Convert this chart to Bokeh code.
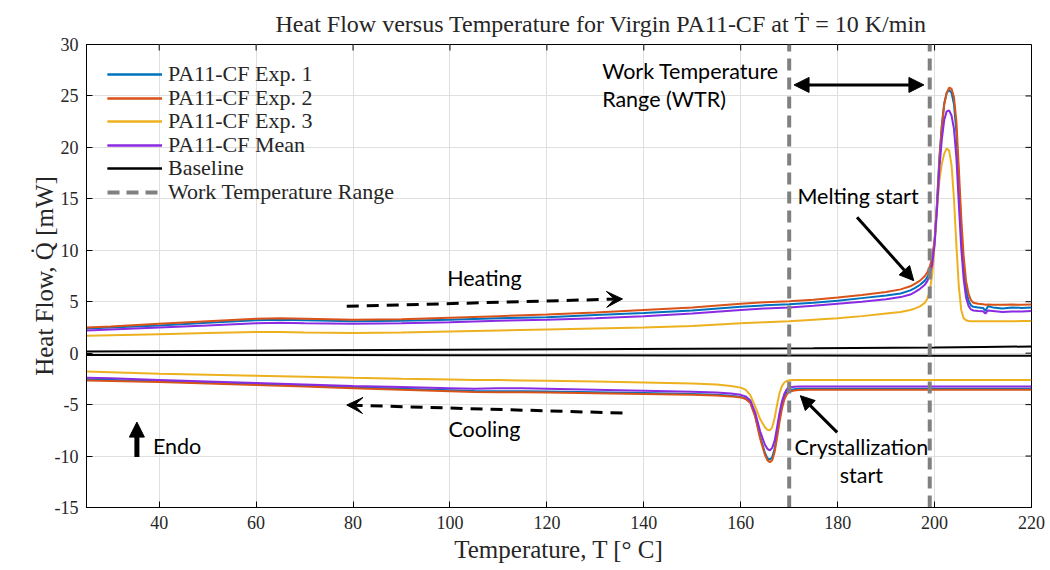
from bokeh.plotting import figure
from bokeh.models import (Arrow, NormalHead, VeeHead, Label, FixedTicker, Range1d, CustomJSTickFormatter,
                          Legend, LegendItem)
from bokeh.embed import file_html
from bokeh.resources import INLINE

# ---------------- data ----------------
T_heat = [25, 30, 40, 50, 60, 65, 70, 80, 90, 100, 110, 120, 130, 140, 150, 160, 165, 170, 175, 180,
          185, 190, 193, 195, 196, 197, 198, 198.5, 199, 199.5, 200, 200.5, 201, 201.5, 202, 202.5, 203, 203.5, 204, 204.5,
          205, 205.5, 206, 206.5, 207, 207.5, 208, 209, 210, 210.5, 211, 212, 214, 216, 218, 220]
heat_exp1 = [2.4, 2.5, 2.7, 2.95, 3.2, 3.25, 3.2, 3.1, 3.15, 3.25, 3.4, 3.5, 3.7, 3.9, 4.15, 4.5, 4.65, 4.75, 4.9, 5.1,
             5.35, 5.6, 5.8, 6.1, 6.35, 6.65, 7.05, 7.4, 7.95, 8.9, 10.8, 14.6, 19.0, 22.2, 24.3, 25.3, 25.6, 25.3, 24.2, 21.5,
             16.8, 12.0, 8.4, 6.2, 5.1, 4.65, 4.5, 4.45, 4.4, 4.1, 4.55, 4.45, 4.35, 4.45, 4.4, 4.45]
heat_exp2 = [2.5, 2.6, 2.85, 3.1, 3.35, 3.4, 3.35, 3.25, 3.3, 3.45, 3.6, 3.75, 3.95, 4.2, 4.45, 4.8, 4.95, 5.05, 5.2, 5.4,
             5.65, 5.95, 6.2, 6.5, 6.75, 7.05, 7.5, 7.85, 8.4, 9.3, 11.0, 14.5, 18.8, 22.0, 24.2, 25.3, 25.8, 25.7, 24.9, 22.5,
             18.0, 13.2, 9.4, 7.0, 5.8, 5.15, 4.9, 4.8, 4.75, 4.7, 4.72, 4.7, 4.7, 4.72, 4.7, 4.72]
heat_exp3 = [1.7, 1.75, 1.85, 1.95, 2.05, 2.05, 2.0, 1.95, 2.0, 2.1, 2.2, 2.3, 2.4, 2.5, 2.65, 2.9, 3.0, 3.1, 3.25, 3.4,
             3.6, 3.85, 4.0, 4.2, 4.35, 4.55, 4.9, 5.3, 6.0, 7.6, 10.5, 14.0, 16.8, 18.4, 19.4, 19.9, 19.7, 18.3, 15.0, 10.5,
             6.5, 4.2, 3.4, 3.2, 3.12, 3.1, 3.1, 3.1, 3.1, 3.1, 3.1, 3.1, 3.1, 3.1, 3.12, 3.12]
heat_mean = [2.2, 2.3, 2.5, 2.7, 2.9, 2.95, 2.9, 2.85, 2.9, 3.0, 3.15, 3.25, 3.4, 3.6, 3.85, 4.2, 4.35, 4.45, 4.6, 4.8,
             5.0, 5.25, 5.45, 5.7, 5.95, 6.25, 6.65, 7.0, 7.6, 8.6, 10.6, 14.0, 18.0, 20.8, 22.7, 23.5, 23.6, 23.1, 21.8, 19.0,
             14.5, 10.2, 7.2, 5.4, 4.6, 4.25, 4.15, 4.1, 4.08, 3.85, 4.15, 4.1, 4.0, 4.05, 4.05, 4.1]

T_cool = [25, 30, 40, 50, 60, 70, 80, 90, 100, 105, 110, 115, 120, 130, 140, 150, 155, 158, 160, 161,
          162, 163, 164, 165, 165.5, 166, 166.5, 167, 167.5, 168, 168.5, 169, 169.5, 170, 171, 172, 174, 176, 180, 190,
          200, 210, 220]
cool_exp1 = [-2.55, -2.6, -2.72, -2.87, -3.02, -3.17, -3.32, -3.47, -3.6, -3.68, -3.7, -3.7, -3.73, -3.8, -3.88, -3.97, -4.05, -4.13, -4.25, -4.4,
             -4.8, -6.1, -8.1, -9.7, -10.2, -10.35, -10.1, -9.3, -7.9, -6.4, -5.1, -4.3, -3.85, -3.6, -3.5, -3.47, -3.45, -3.45, -3.45, -3.45,
             -3.45, -3.45, -3.45]
cool_exp2 = [-2.65, -2.7, -2.8, -2.95, -3.1, -3.25, -3.4, -3.55, -3.7, -3.78, -3.8, -3.8, -3.83, -3.9, -3.97, -4.05, -4.12, -4.2, -4.3, -4.45,
             -4.85, -6.2, -8.3, -9.9, -10.4, -10.6, -10.4, -9.6, -8.2, -6.7, -5.4, -4.5, -4.0, -3.75, -3.62, -3.58, -3.56, -3.56, -3.56, -3.56,
             -3.56, -3.56, -3.56]
cool_exp3 = [-1.78, -1.85, -2.0, -2.1, -2.2, -2.3, -2.4, -2.48, -2.55, -2.6, -2.62, -2.65, -2.68, -2.76, -2.84, -2.95, -3.05, -3.2, -3.35, -3.55,
             -4.1, -5.2, -6.4, -7.2, -7.45, -7.5, -7.2, -6.3, -5.0, -3.9, -3.2, -2.85, -2.7, -2.64, -2.6, -2.6, -2.6, -2.6, -2.62, -2.62,
             -2.62, -2.62, -2.62]
cool_mean = [-2.38, -2.45, -2.6, -2.75, -2.9, -3.05, -3.2, -3.3, -3.4, -3.45, -3.42, -3.4, -3.45, -3.55, -3.65, -3.75, -3.83, -3.92, -4.05, -4.2,
             -4.6, -5.8, -7.6, -8.9, -9.3, -9.45, -9.2, -8.5, -7.2, -5.8, -4.7, -3.95, -3.5, -3.33, -3.27, -3.25, -3.24, -3.24, -3.24, -3.24,
             -3.24, -3.24, -3.24]

T_base = [25, 50, 75, 100, 125, 150, 175, 200, 210, 220]
base_heat = [0.15, 0.22, 0.28, 0.33, 0.38, 0.43, 0.48, 0.55, 0.6, 0.65]
base_cool = [-0.17, -0.18, -0.19, -0.2, -0.21, -0.22, -0.23, -0.24, -0.245, -0.25]

wtr_limits = [170, 199]

x_ticks = [40, 60, 80, 100, 120, 140, 160, 180, 200, 220]
y_ticks = [-15, -10, -5, 0, 5, 10, 15, 20, 25, 30]

series = [
    ("PA11-CF Exp. 1", "#0072BD", heat_exp1, cool_exp1),
    ("PA11-CF Exp. 2", "#D95319", heat_exp2, cool_exp2),
    ("PA11-CF Exp. 3", "#EDB120", heat_exp3, cool_exp3),
    ("PA11-CF Mean", "#8A2BE2", heat_mean, cool_mean),
]

SERIF = "Liberation Serif"
SANS = "Lato"
X0, X1, Y0, Y1 = 25, 220, -15, 30
FRAME_W, FRAME_H = 945, 463

# ---------------- figure ----------------
p = figure(frame_width=FRAME_W, frame_height=FRAME_H, output_backend="svg", toolbar_location=None,
           x_range=Range1d(X0, X1), y_range=Range1d(Y0, Y1),
           min_border_left=86, min_border_right=19, min_border_top=44, min_border_bottom=63,
           title="Heat Flow versus Temperature for Virgin PA11-CF at Ṫ = 10 K/min")
p.background_fill_color = "white"
p.border_fill_color = "white"
p.outline_line_color = "black"
p.outline_line_width = 1

p.title.align = "left"
p.title.offset = 189
p.title.text_font = SERIF
p.title.text_font_size = "24px"
p.title.text_font_style = "normal"
p.title.text_color = "#262626"
p.title.standoff = 16

p.xaxis.ticker = FixedTicker(ticks=x_ticks)
p.yaxis.ticker = FixedTicker(ticks=y_ticks)
p.yaxis.formatter = CustomJSTickFormatter(code="return tick.toString();")
p.xaxis.axis_label = "Temperature, T [° C]"
p.yaxis.axis_label = "Heat Flow, Q̇ [mW]"
p.axis.major_label_text_font = SERIF
p.axis.major_label_text_font_size = "18px"
p.axis.major_label_text_color = "#262626"
p.axis.axis_label_text_font = SERIF
p.axis.axis_label_text_font_size = "25px"
p.axis.axis_label_text_font_style = "normal"
p.axis.axis_label_text_color = "#262626"
p.axis.major_tick_in = 6
p.axis.major_tick_out = 0
p.axis.minor_tick_line_color = None
p.axis.axis_line_color = "black"
p.axis.major_tick_line_color = "black"
p.xaxis.major_label_standoff = 8
p.yaxis.major_label_standoff = 8
p.xaxis.axis_label_standoff = 4
p.yaxis.axis_label_standoff = -6

p.grid.grid_line_color = "#dfdfdf"
p.grid.grid_line_width = 1
p.xgrid.ticker = FixedTicker(ticks=x_ticks)
p.ygrid.ticker = FixedTicker(ticks=y_ticks)

# inward ticks on the top and right box edges
tick_dy = (Y1 - Y0) * 6 / FRAME_H
tick_dx = (X1 - X0) * 6 / FRAME_W
p.segment(x0=x_ticks, x1=x_ticks, y0=[Y1] * len(x_ticks), y1=[Y1 - tick_dy] * len(x_ticks),
          line_color="black", line_width=1)
p.segment(x0=[X1] * len(y_ticks), x1=[X1 - tick_dx] * len(y_ticks), y0=y_ticks, y1=y_ticks,
          line_color="black", line_width=1)

# ---------------- data lines ----------------
legend_entries = []
for name, color, h, c in series:
    r1 = p.line(T_heat, h, line_color=color, line_width=2)
    r2 = p.line(T_cool, c, line_color=color, line_width=2)
    legend_entries.append((name, [r1, r2]))

rb1 = p.line(T_base, base_heat, line_color="black", line_width=2)
rb2 = p.line(T_base, base_cool, line_color="black", line_width=2)
legend_entries.append(("Baseline", [rb1, rb2]))

rw = p.segment(x0=wtr_limits, x1=wtr_limits, y0=[Y0, Y0], y1=[Y1, Y1], line_color="#808080",
               line_width=4, line_dash="12 7")
legend_entries.append(("Work Temperature Range", [rw]))

# ---------------- legend: one row per legend to control the row pitch ----------------
ROW_H = 26
for i, (name, rends) in enumerate(legend_entries):
    center_from_top = 30 + 23.6 * i
    y_off = FRAME_H - (center_from_top + ROW_H / 2)
    lg = Legend(items=[LegendItem(label=name, renderers=rends)], location=(21, y_off),
                margin=0, padding=0, spacing=0, glyph_width=55, glyph_height=ROW_H,
                label_height=ROW_H, label_standoff=6, label_text_font=SERIF,
                label_text_font_size="22px", label_text_color="#262626",
                background_fill_alpha=0, border_line_alpha=0)
    p.add_layout(lg, "center")

# ---------------- annotations ----------------
def lab(x, y, text, align="left", baseline="alphabetic", size="21.5px"):
    p.add_layout(Label(x=x, y=y, text=text, text_font=SANS, text_font_size=size,
                       text_align=align, text_baseline=baseline, text_color="black"))

lab(131.4, 27.4, "Work Temperature")
lab(131.4, 24.7, "Range (WTR)")
lab(171.7, 15.3, "Melting start")
lab(107.1, 7.3, "Heating", align="center")
lab(107.1, -7.4, "Cooling", align="center")
lab(38.7, -9.0, "Endo")
lab(184.9, -9.15, "Crystallization", align="center")
lab(184.9, -11.8, "start", align="center")

# double arrow for WTR
p.add_layout(Arrow(start=NormalHead(size=15, fill_color="black", line_color="black"),
                   end=NormalHead(size=15, fill_color="black", line_color="black"),
                   x_start=171.0, y_start=26.07, x_end=197.8, y_end=26.07,
                   line_color="black", line_width=3))
# melting start arrow
p.add_layout(Arrow(end=NormalHead(size=14, fill_color="black", line_color="black"),
                   x_start=184.0, y_start=13.2, x_end=195.7, y_end=7.05,
                   line_color="black", line_width=3))
# crystallization start arrow
p.add_layout(Arrow(end=NormalHead(size=14, fill_color="black", line_color="black"),
                   x_start=179.9, y_start=-7.7, x_end=172.3, y_end=-4.13,
                   line_color="black", line_width=3))
# heating arrow (dashed)
p.add_layout(Arrow(end=VeeHead(size=16, fill_color="black", line_color="black"),
                   x_start=78.7, y_start=4.55, x_end=135.6, y_end=5.27,
                   line_color="black", line_width=3, line_dash="12 8"))
# cooling arrow (dashed)
p.add_layout(Arrow(end=VeeHead(size=16, fill_color="black", line_color="black"),
                   x_start=135.6, y_start=-5.82, x_end=78.7, y_end=-5.04,
                   line_color="black", line_width=3, line_dash="12 8"))
# endo arrow
p.add_layout(Arrow(end=NormalHead(size=15, fill_color="black", line_color="black"),
                   x_start=35.4, y_start=-10.1, x_end=35.4, y_end=-6.7,
                   line_color="black", line_width=5))

open("out.html", "w").write(file_html(p, INLINE))
